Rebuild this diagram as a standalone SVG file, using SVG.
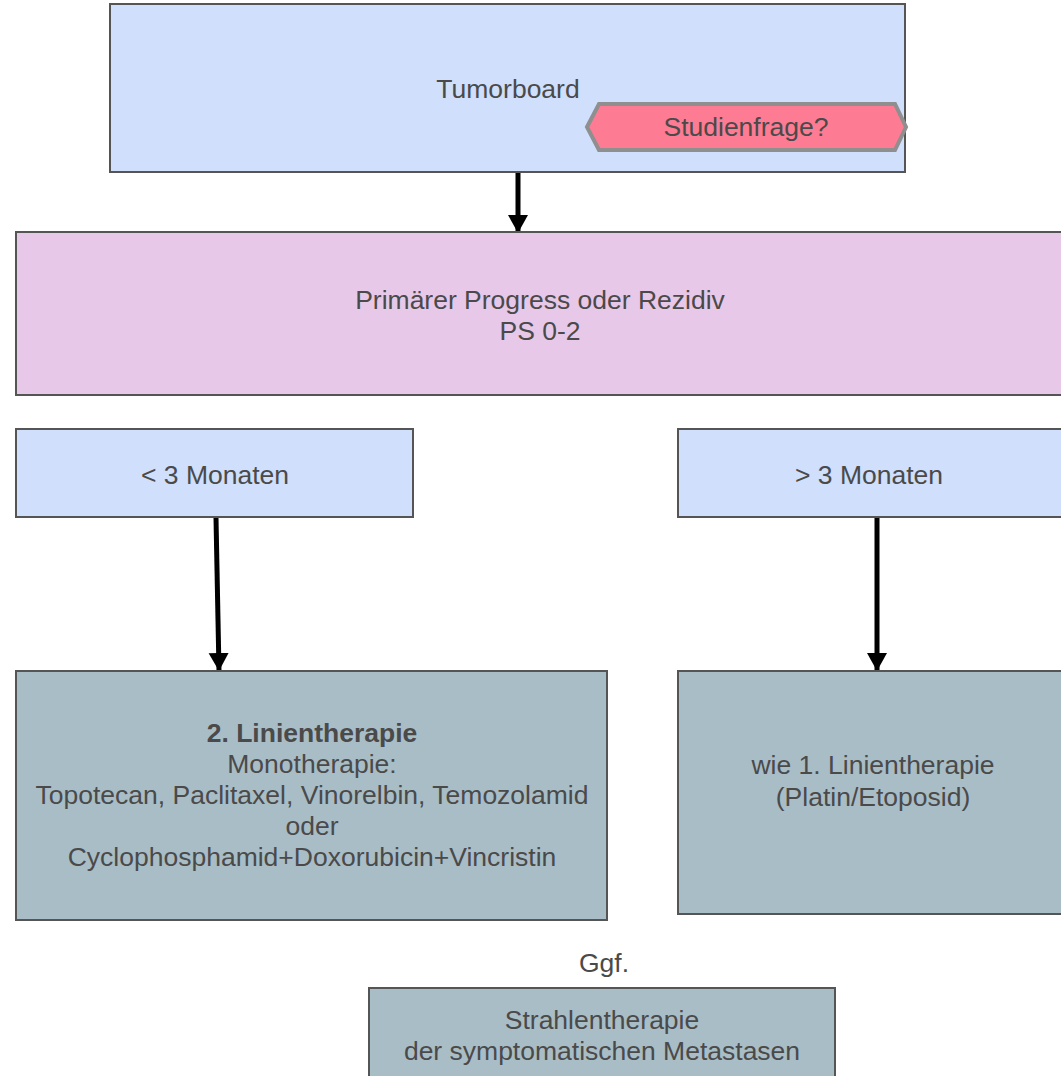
<svg xmlns="http://www.w3.org/2000/svg" width="1061" height="1076" viewBox="0 0 1061 1076">
<style>
.box{stroke:#555;stroke-width:2}
.blue{fill:#cfdffc}
.pink{fill:#e8c8e8}
.grey{fill:#a9bdc7}
text{font-family:"Liberation Sans",Arial,sans-serif;font-size:26.5px;fill:#4a4a4a;text-anchor:middle}
.b{font-weight:bold}
.con{stroke:#000;stroke-width:5;fill:none}
</style>
<defs>
<marker id="ah" markerUnits="userSpaceOnUse" markerWidth="22" markerHeight="22" refX="18" refY="10" orient="auto">
<path d="M0,0 L18,10 L0,20 Z" fill="#000"/>
</marker>
</defs>
<rect width="1061" height="1076" fill="#fff"/>
<g id="connectors">
<line class="con" x1="518" y1="173" x2="518" y2="233" marker-end="url(#ah)"/>
<line class="con" x1="216" y1="518" x2="219" y2="671" marker-end="url(#ah)"/>
<line class="con" x1="877" y1="518" x2="877" y2="671" marker-end="url(#ah)"/>
</g>
<g id="tumorboard">
<rect class="box blue" x="110" y="4" width="795" height="168"/>
<text x="508" y="98">Tumorboard</text>
</g>
<g id="studienfrage">
<polygon points="587,127 599,104 895,104 906,127 895,150 599,150" fill="#fe7b94" stroke="#8f8f8f" stroke-width="4"/>
<text x="746" y="136">Studienfrage?</text>
</g>
<g id="progress">
<rect class="box pink" x="16" y="232" width="1060" height="163"/>
<text x="540" y="309">Primärer Progress oder Rezidiv</text>
<text x="540" y="340">PS 0-2</text>
</g>
<g id="lt3">
<rect class="box blue" x="16" y="429" width="397" height="88"/>
<text x="215" y="484">&lt; 3 Monaten</text>
</g>
<g id="gt3">
<rect class="box blue" x="678" y="429" width="400" height="88"/>
<text x="869" y="484">&gt; 3 Monaten</text>
</g>
<g id="zweitlinie">
<rect class="box grey" x="16" y="671" width="591" height="249"/>
<text class="b" x="312" y="742">2. Linientherapie</text>
<text x="312" y="773">Monotherapie:</text>
<text x="312" y="804">Topotecan, Paclitaxel, Vinorelbin, Temozolamid</text>
<text x="312" y="835">oder</text>
<text x="312" y="866">Cyclophosphamid+Doxorubicin+Vincristin</text>
</g>
<g id="erstlinie">
<rect class="box grey" x="678" y="671" width="400" height="243"/>
<text x="873" y="774">wie 1. Linientherapie</text>
<text x="873" y="806">(Platin/Etoposid)</text>
</g>
<g id="ggf">
<text x="604" y="972">Ggf.</text>
</g>
<g id="strahlen">
<rect class="box grey" x="369" y="988" width="466" height="100"/>
<text x="602" y="1029">Strahlentherapie</text>
<text x="602" y="1060">der symptomatischen Metastasen</text>
</g>
</svg>
